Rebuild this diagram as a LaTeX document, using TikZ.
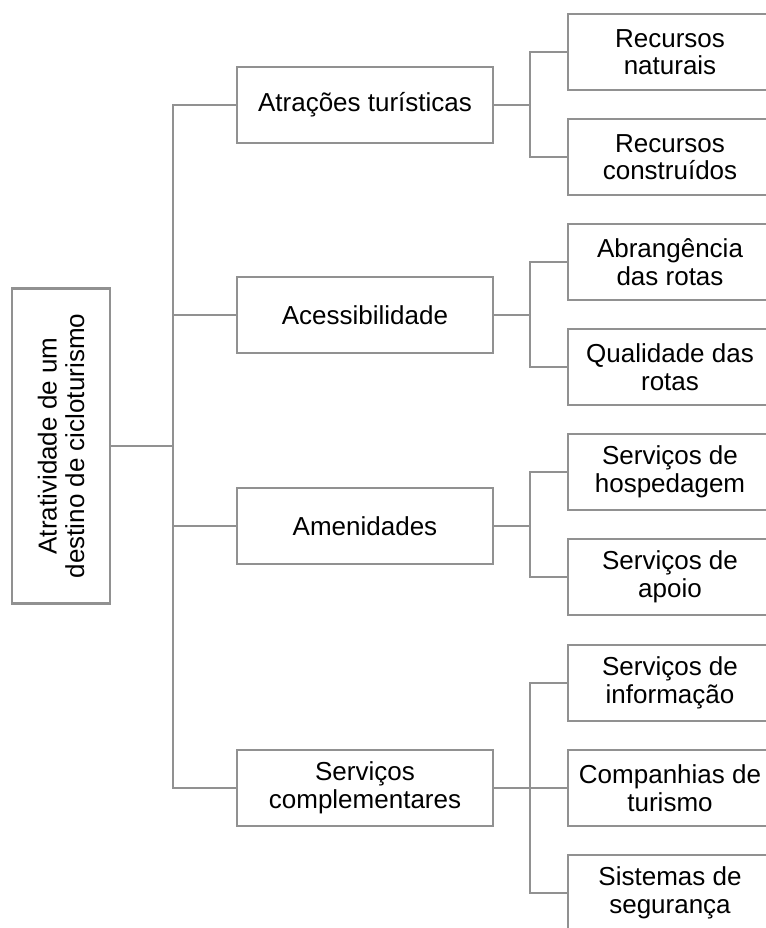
\documentclass[tikz,border=0pt]{standalone}
\usepackage{fontspec}
\setmainfont{Liberation Sans}
\definecolor{linegray}{RGB}{145,145,145}
\begin{document}
\begin{tikzpicture}[x=1pt,y=-1pt,
  every node/.style={font=\fontsize{26}{27.5}\selectfont, text=black},
  box/.style={draw=linegray, line width=2.4pt, fill=white, inner sep=0pt, align=center},
  lvlone/.style={box, minimum width=256pt, minimum height=76pt},
  leaf/.style={box, minimum width=204pt, minimum height=76pt},
  conn/.style={draw=linegray, line width=2.4pt}]
\useasboundingbox (0,0) rectangle (765,928);
% root
\node[box, rotate=90, minimum width=315pt, minimum height=98pt] (root) at (61,446)
  {Atratividade de um\\destino de cicloturismo};
% level one
\node[lvlone] (a1) at (365,105) {Atrações turísticas};
\node[lvlone] (a2) at (365,315) {Acessibilidade};
\node[lvlone] (a3) at (365,526) {Amenidades};
\node[lvlone] (a4) at (365,788) {Serviços\\complementares};
% leaves
\node[leaf] (l1) at (670,52) {Recursos\\naturais};
\node[leaf] (l2) at (670,157) {Recursos\\construídos};
\node[leaf] (l3) at (670,262) {Abrangência\\das rotas};
\node[leaf] (l4) at (670,367) {Qualidade das\\rotas};
\node[leaf] (l5) at (670,472) {Serviços de\\hospedagem};
\node[leaf] (l6) at (670,577) {Serviços de\\apoio};
\node[leaf] (l7) at (670,683) {Serviços de\\informação};
\node[leaf] (l8) at (670,788) {Companhias de\\turismo};
\node[leaf] (l9) at (670,893) {Sistemas de\\segurança};
% trunk
\coordinate (T) at (173,446);
\draw[conn] (root.south) -- (T);
\draw[conn] (a1.west) -| (T) |- (a4.west);
\draw[conn] (a2.west) -- (a2.west -| T);
\draw[conn] (a3.west) -- (a3.west -| T);
% brackets
\coordinate (B1) at (530,105);
\coordinate (B2) at (530,315);
\coordinate (B3) at (530,526);
\coordinate (B4) at (530,788);
\draw[conn] (a1.east) -- (B1);
\draw[conn] (l1.west) -| (B1) |- (l2.west);
\draw[conn] (a2.east) -- (B2);
\draw[conn] (l3.west) -| (B2) |- (l4.west);
\draw[conn] (a3.east) -- (B3);
\draw[conn] (l5.west) -| (B3) |- (l6.west);
\draw[conn] (a4.east) -- (l8.west);
\draw[conn] (l7.west) -| (B4) |- (l9.west);
\end{tikzpicture}
\end{document}
